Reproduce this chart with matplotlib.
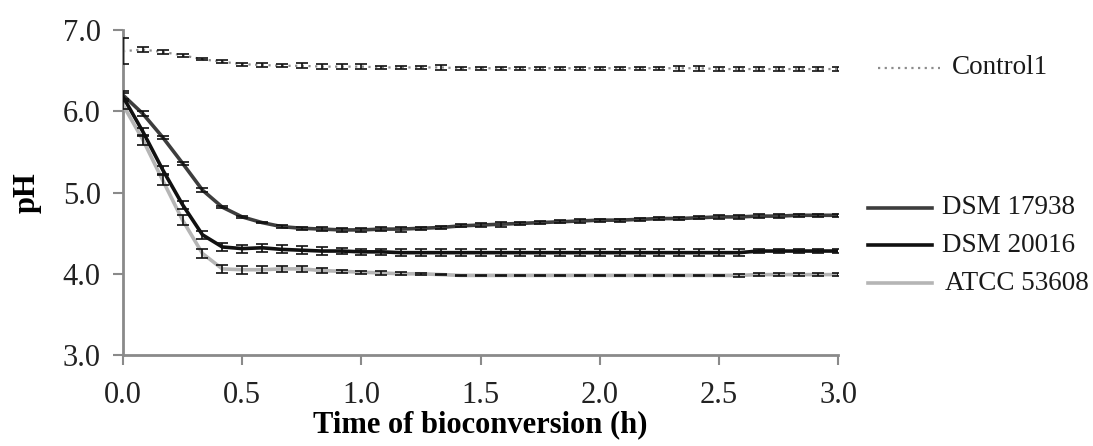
import numpy as np
import matplotlib.pyplot as plt
from matplotlib.lines import Line2D

# time points every 5 min over 3 h
time_h = np.arange(37) * (5 / 60)

control = [6.74, 6.76, 6.73, 6.69, 6.64, 6.61, 6.58, 6.57, 6.56, 6.56, 6.55, 6.55,
           6.55, 6.54, 6.54, 6.54, 6.54, 6.53, 6.53, 6.53, 6.53, 6.53, 6.53, 6.53,
           6.53, 6.53, 6.53, 6.53, 6.53, 6.53, 6.52, 6.52, 6.52, 6.52, 6.52, 6.52, 6.52]
control_err = [0.16, 0.03, 0.02, 0.02, 0.01, 0.02, 0.02, 0.02, 0.02, 0.03, 0.03, 0.03,
               0.03, 0.02, 0.02, 0.02, 0.03, 0.02, 0.02, 0.02, 0.02, 0.02, 0.02, 0.02,
               0.02, 0.02, 0.02, 0.02, 0.03, 0.03, 0.03, 0.03, 0.03, 0.03, 0.03, 0.03, 0.03]

dsm17938 = [6.20, 5.97, 5.68, 5.36, 5.03, 4.82, 4.70, 4.63, 4.58, 4.56, 4.55, 4.54,
            4.54, 4.55, 4.55, 4.56, 4.57, 4.59, 4.60, 4.61, 4.62, 4.63, 4.64, 4.65,
            4.66, 4.66, 4.67, 4.68, 4.68, 4.69, 4.70, 4.70, 4.71, 4.71, 4.72, 4.72, 4.72]
dsm17938_err = [0.05, 0.03, 0.02, 0.02, 0.02, 0.01, 0.01, 0.01, 0.02, 0.02, 0.02, 0.02,
                0.02, 0.02, 0.03, 0.02, 0.02, 0.02, 0.02, 0.03, 0.02, 0.02, 0.02, 0.02,
                0.02, 0.02, 0.02, 0.02, 0.02, 0.02, 0.02, 0.02, 0.02, 0.02, 0.02, 0.02, 0.02]

dsm20016 = [6.18, 5.75, 5.28, 4.85, 4.48, 4.33, 4.31, 4.32, 4.30, 4.29, 4.28, 4.28,
            4.27, 4.27, 4.26, 4.26, 4.26, 4.26, 4.26, 4.26, 4.26, 4.26, 4.26, 4.26,
            4.26, 4.26, 4.26, 4.26, 4.26, 4.26, 4.26, 4.26, 4.28, 4.28, 4.28, 4.28, 4.28]
dsm20016_err = [0.05, 0.05, 0.05, 0.05, 0.05, 0.05, 0.05, 0.05, 0.05, 0.05, 0.05, 0.04,
                0.04, 0.04, 0.04, 0.04, 0.04, 0.04, 0.04, 0.04, 0.04, 0.04, 0.04, 0.04,
                0.04, 0.04, 0.04, 0.04, 0.04, 0.04, 0.04, 0.04, 0.03, 0.03, 0.03, 0.03, 0.03]

atcc53608 = [6.08, 5.65, 5.15, 4.66, 4.25, 4.06, 4.05, 4.05, 4.06, 4.06, 4.04, 4.03,
             4.02, 4.01, 4.00, 4.00, 3.99, 3.98, 3.98, 3.98, 3.98, 3.98, 3.98, 3.98,
             3.98, 3.98, 3.98, 3.98, 3.98, 3.98, 3.98, 3.98, 3.99, 3.99, 3.99, 3.99, 3.99]
atcc53608_err = [0.05, 0.06, 0.06, 0.06, 0.06, 0.05, 0.05, 0.04, 0.04, 0.04, 0.03, 0.02,
                 0.02, 0.02, 0.02, 0.01, 0.01, 0.01, 0.01, 0.01, 0.01, 0.01, 0.01, 0.01,
                 0.01, 0.01, 0.01, 0.01, 0.01, 0.01, 0.01, 0.02, 0.02, 0.02, 0.02, 0.02, 0.02]

plt.rcParams['font.family'] = ['Liberation Serif', 'DejaVu Serif']

fig = plt.figure(figsize=(10.93, 4.46), dpi=100)
ax = fig.add_axes([0.1125, 0.204, 0.6545, 0.7286])

series = [
    ("Control1", control, control_err, dict(color="#8c8c8c", lw=1.6, ls=(0, (1, 2)))),
    ("DSM 17938", dsm17938, dsm17938_err, dict(color="#3d3d3d", lw=2.6, ls="-")),
    ("DSM 20016", dsm20016, dsm20016_err, dict(color="#111111", lw=2.6, ls="-")),
    ("ATCC 53608", atcc53608, atcc53608_err, dict(color="#b5b5b5", lw=2.6, ls="-")),
]

for name, vals, err, st in series:
    ax.plot(time_h, vals, zorder=3, **st)
    ax.errorbar(time_h, vals, yerr=err, fmt="none", ecolor="#111111",
                elinewidth=1.2, capsize=4, capthick=1.2, zorder=4)

ax.set_xlim(0, 3)
ax.set_ylim(3, 7)
ax.set_xticks(np.arange(0, 3.01, 0.5))
ax.set_yticks(np.arange(3, 7.01, 1.0))
ax.set_xticklabels([f"{v:.1f}" for v in np.arange(0, 3.01, 0.5)])
ax.set_yticklabels([f"{v:.1f}" for v in np.arange(3, 7.01, 1.0)])

for s in ["top", "right"]:
    ax.spines[s].set_visible(False)
for s in ["left", "bottom"]:
    ax.spines[s].set_color("#8a8a8a")
    ax.spines[s].set_linewidth(2)

ax.tick_params(axis="both", colors="#8a8a8a", labelcolor="#222222",
               labelsize=22, width=1.5, length=7, direction="out")
ax.tick_params(axis="y", pad=9)
ax.tick_params(axis="x", pad=12)

ax.set_xlabel("Time of bioconversion (h)", fontsize=22, fontweight="bold", labelpad=0)
ax.set_ylabel("pH", fontsize=22, fontweight="bold", labelpad=15)

# labels on the right, Excel style
W, H = 1093, 446
entries = [
    ("Control1", 878, 940, 68, 952, series[0][3]),
    ("DSM 17938", 868, 932, 208, 942, series[1][3]),
    ("DSM 20016", 868, 932, 245, 942, series[2][3]),
    ("ATCC 53608", 868, 932, 283, 945, series[3][3]),
]
for name, x0, x1, y, tx, st in entries:
    fig.add_artist(Line2D([x0 / W, x1 / W], [1 - y / H, 1 - y / H],
                          transform=fig.transFigure, **st))
    fig.text(tx / W, 1 - y / H, name, fontsize=19.5, color="#1a1a1a",
             va="center", ha="left")

fig.savefig("out.png", dpi=100)
